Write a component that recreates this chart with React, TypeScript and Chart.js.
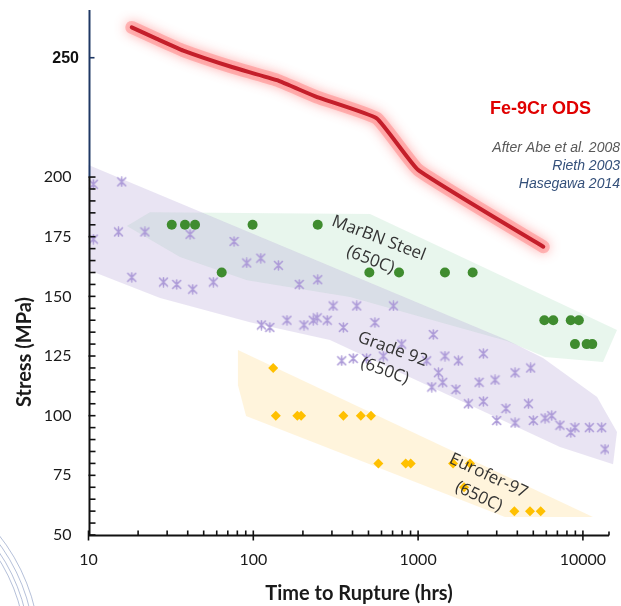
import React, { useEffect, useRef } from "react";
import { Chart, registerables } from "chart.js";

Chart.register(...registerables);

// ---------- axis ticks ----------
const xTickValues = [10, 100, 1000, 10000];
const yTickValues = [50, 75, 100, 125, 150, 175, 200];
const yTopTickValue = 250;

// ---------- Fe-9Cr ODS curve ----------
const odsTime = [18.3, 26, 37.6, 75, 139, 244, 561, 1000, 5750];
const odsStress = [262.7, 257.9, 253, 246, 240.6, 233.5, 224.6, 203, 170.8];

// ---------- MarBN Steel (650C) ----------
const marbnTime = [32, 38.5, 44.3, 99, 246, 64.3, 506, 766, 1455, 2143, 5835, 6610, 8440, 9450, 8950, 10540, 11400];
const marbnStress = [180, 180, 180, 180, 180, 160, 160, 160, 160, 160, 140, 140, 140, 140, 130, 130, 130];

// ---------- Eurofer-97 (650C) ----------
const euroferTime = [132, 137, 185, 195, 352, 449, 518, 574, 841, 902, 1630, 2065, 1900, 3840, 4775, 5545];
const euroferStress = [120, 100, 100, 100, 100, 100, 100, 80, 80, 80, 80, 80, 70, 60, 60, 60];

// ---------- Grade 92 (650C) ----------
const grade92Time = [
  10.7, 15.9, 10.7, 15.2, 22, 41.3, 76.4, 91.2, 111, 142,
  18.3, 28.5, 34.3, 42.9, 57.2, 190, 246, 305, 424, 708,
  112, 126, 160, 203, 231, 244, 281, 352, 547, 1236,
  344, 404, 487, 615, 795, 1127, 1328, 1455, 1754, 2489,
  1211, 1410, 1698, 2345, 2930, 3875, 4820, 2018, 2489, 3412,
  4670, 3000, 3875, 5000, 5890, 6470, 7260, 8440, 8950, 10940,
  13000, 13620,
];
const grade92Stress = [
  197, 198, 174, 177, 177, 176, 173, 164, 166, 163,
  158, 156, 155, 153, 156, 155, 157, 146, 146, 146,
  138, 137, 140, 138, 140, 141, 140, 137, 139, 134,
  123, 124, 124, 125, 130, 123, 118, 125, 123, 126,
  112, 114, 111, 114, 115, 118, 120, 105, 106, 103,
  105, 98, 97, 98, 99, 100, 96, 93, 95, 95,
  95, 86,
];

// ---------- shaded bands (outline vertices) ----------
const marbnBandTime = [17.1, 23.6, 511, 16100, 13240, 5890, 3460, 386, 91.6, 35.9];
const marbnBandStress = [179.5, 185.3, 184.5, 135.9, 122.5, 124.6, 131.3, 149.7, 156.8, 166.5];
const grade92BandTime = [10, 3460, 5730, 12190, 16100, 15240, 7260, 292, 95.5, 27.2, 10];
const grade92BandStress = [205, 131.7, 124.2, 107.8, 93.2, 79.7, 86.9, 131.7, 139.2, 149.3, 161];
const euroferBandTime = [80.7, 11510, 3365, 90.4, 80.7];
const euroferBandStress = [127.5, 57.5, 57.5, 99.9, 112.8];

// ---------- text ----------
const odsTitle = "Fe-9Cr ODS";
const sourceLines = ["After Abe et al. 2008", "Rieth 2003", "Hasegawa 2014"];
const bandLabelText = [
  ["MarBN Steel", "(650C)"],
  ["Grade 92", "(650C)"],
  ["Eurofer-97", "(650C)"],
];
const bandLabelTime = [544, 663, 2500];
const bandLabelStress = [169.8, 123.3, 70.4];
const bandLabelAngle = [21, 20, 25];
const xTitle = "Time to Rupture (hrs)";
const yTitle = "Stress (MPa)";

const zip = (xs: number[], ys: number[]) => xs.map((x, i) => ({ x, y: ys[i] }));

const bands = [
  { t: marbnBandTime, s: marbnBandStress, color: "rgba(165,218,185,0.25)" },
  { t: grade92BandTime, s: grade92BandStress, color: "rgba(182,165,215,0.30)" },
  { t: euroferBandTime, s: euroferBandStress, color: "rgba(255,214,120,0.26)" },
];

function makeStarMarker(color: string) {
  const c = document.createElement("canvas");
  c.width = 11;
  c.height = 11;
  const g = c.getContext("2d")!;
  g.strokeStyle = color;
  g.lineWidth = 1.6;
  g.lineCap = "round";
  g.beginPath();
  g.moveTo(1.5, 1.5);
  g.lineTo(9.5, 9.5);
  g.moveTo(9.5, 1.5);
  g.lineTo(1.5, 9.5);
  g.moveTo(5.5, 1);
  g.lineTo(5.5, 10);
  g.stroke();
  return c;
}

const decorPlugin = {
  id: "decor",
  beforeDatasetsDraw(chart: any) {
    const { ctx, scales } = chart;
    const xs = scales.x;
    const ys = scales.y;
    ctx.save();
    bands.forEach((b) => {
      ctx.beginPath();
      b.t.forEach((t, i) => {
        const px = xs.getPixelForValue(t);
        const py = ys.getPixelForValue(b.s[i]);
        if (i === 0) ctx.moveTo(px, py);
        else ctx.lineTo(px, py);
      });
      ctx.closePath();
      ctx.fillStyle = b.color;
      ctx.fill();
    });
    ctx.restore();
  },
  beforeDatasetDraw(chart: any, args: any) {
    const ds = chart.data.datasets[args.index];
    if (ds.label === "glow") {
      chart.ctx.save();
      chart.ctx.shadowColor = "rgba(255,70,70,0.9)";
      chart.ctx.shadowBlur = 12;
    }
  },
  afterDatasetDraw(chart: any, args: any) {
    const ds = chart.data.datasets[args.index];
    if (ds.label === "glow") chart.ctx.restore();
  },
  afterDatasetsDraw(chart: any) {
    const { ctx, scales } = chart;
    const xs = scales.x;
    const ys = scales.y;
    ctx.save();
    ctx.fillStyle = "#333";
    ctx.font = '17px "Open Sans"';
    ctx.textAlign = "center";
    ctx.textBaseline = "middle";
    bandLabelText.forEach((lines, k) => {
      const cx = xs.getPixelForValue(bandLabelTime[k]);
      const cy = ys.getPixelForValue(bandLabelStress[k]);
      ctx.save();
      ctx.translate(cx, cy);
      ctx.rotate((bandLabelAngle[k] * Math.PI) / 180);
      const lh = 23;
      lines.forEach((ln, i) => {
        ctx.fillText(ln, 0, (i - (lines.length - 1) / 2) * lh);
      });
      ctx.restore();
    });
    ctx.restore();
  },
  afterDraw(chart: any) {
    const { ctx, scales, chartArea } = chart;
    const xs = scales.x;
    const ys = scales.y;
    ctx.save();
    // y axis line
    const ax = Math.round(chartArea.left) + 0.5;
    const y200 = ys.getPixelForValue(200);
    ctx.lineWidth = 2;
    ctx.strokeStyle = "#1f3864";
    ctx.beginPath();
    ctx.moveTo(ax, chartArea.top);
    ctx.lineTo(ax, y200);
    ctx.stroke();
    ctx.strokeStyle = "#111";
    ctx.beginPath();
    ctx.moveTo(ax, y200);
    ctx.lineTo(ax, chartArea.bottom + 1);
    ctx.stroke();
    // y ticks
    ctx.lineWidth = 1.6;
    for (let v = 50; v <= 200; v += 5) {
      const py = ys.getPixelForValue(v);
      ctx.beginPath();
      ctx.moveTo(ax - (v % 25 === 0 ? 1 : 0), py);
      ctx.lineTo(ax + 6, py);
      ctx.stroke();
    }
    ctx.strokeStyle = "#1f3864";
    const p250 = ys.getPixelForValue(yTopTickValue);
    ctx.beginPath();
    ctx.moveTo(ax, p250);
    ctx.lineTo(ax + 5, p250);
    ctx.stroke();
    // x axis line
    const ay = Math.round(chartArea.bottom) + 0.5;
    ctx.strokeStyle = "#111";
    ctx.lineWidth = 2;
    ctx.beginPath();
    ctx.moveTo(chartArea.left, ay);
    ctx.lineTo(chartArea.right, ay);
    ctx.stroke();
    ctx.lineWidth = 1.6;
    for (let d = 10; d <= 10000; d *= 10) {
      for (let m = 1; m <= 9; m++) {
        const v = d * m;
        if (v > xs.max) break;
        const px = xs.getPixelForValue(v);
        ctx.beginPath();
        if (m === 1) {
          ctx.moveTo(px, ay - 5);
          ctx.lineTo(px, ay + 5);
        } else {
          ctx.moveTo(px, ay - 5);
          ctx.lineTo(px, ay);
        }
        ctx.stroke();
      }
    }
    ctx.beginPath();
    ctx.moveTo(chartArea.right, ay - 4);
    ctx.lineTo(chartArea.right, ay);
    ctx.stroke();

    // 250 label
    ctx.fillStyle = "#111";
    ctx.font = 'bold 16px "Liberation Sans", Arial';
    ctx.textAlign = "right";
    ctx.textBaseline = "middle";
    ctx.fillText(String(yTopTickValue), 79, p250 + 1);

    // axis titles
    ctx.font = 'bold 20px Lato';
    ctx.fillStyle = "#1a1a1a";
    ctx.textAlign = "center";
    ctx.textBaseline = "middle";
    ctx.fillText(xTitle, 359, 594);
    ctx.save();
    ctx.translate(25, 352);
    ctx.rotate(-Math.PI / 2);
    ctx.fillText(yTitle, 0, 0);
    ctx.restore();

    // ODS title and sources
    ctx.font = 'bold 18px "Liberation Sans", Arial';
    ctx.fillStyle = "#e00000";
    ctx.textAlign = "left";
    ctx.textBaseline = "alphabetic";
    ctx.fillText(odsTitle, 490, 114);
    ctx.font = 'italic 14px "Liberation Sans", Arial';
    ctx.textAlign = "right";
    ctx.fillStyle = "#595959";
    ctx.fillText(sourceLines[0], 620, 152);
    ctx.fillStyle = "#34507a";
    ctx.fillText(sourceLines[1], 620, 170);
    ctx.fillText(sourceLines[2], 620, 188);

    // decorative arcs (slide background)
    ctx.strokeStyle = "rgba(120,140,185,0.55)";
    ctx.lineWidth = 1;
    [176, 180, 185, 190].forEach((r) => {
      ctx.beginPath();
      ctx.arc(-150, 653, r, -Math.PI / 2.6, 0);
      ctx.stroke();
    });
    ctx.restore();
  },
};

export default function App() {
  const ref = useRef<HTMLCanvasElement>(null);
  useEffect(() => {
    if (!ref.current) return;
    const star = makeStarMarker("#ad9bd8");
    const chart = new Chart(ref.current, {
      type: "line",
      data: {
        datasets: [
          {
            label: "Fe-9Cr ODS",
            data: zip(odsTime, odsStress),
            borderColor: "#c41e2a",
            borderWidth: 4,
            borderCapStyle: "round",
            borderJoinStyle: "round",
            pointRadius: 0,
            tension: 0.12,
            fill: false,
          },
          {
            label: "glow",
            data: zip(odsTime, odsStress),
            borderColor: "rgba(255,120,120,0.45)",
            borderWidth: 13,
            borderCapStyle: "round",
            borderJoinStyle: "round",
            pointRadius: 0,
            tension: 0.12,
            fill: false,
          },
          {
            label: "MarBN Steel (650C)",
            data: zip(marbnTime, marbnStress),
            showLine: false,
            pointStyle: "circle",
            pointRadius: 5,
            pointBackgroundColor: "#3f8c2f",
            pointBorderWidth: 0,
          },
          {
            label: "Eurofer-97 (650C)",
            data: zip(euroferTime, euroferStress),
            showLine: false,
            pointStyle: "rectRot",
            pointRadius: 5,
            pointBackgroundColor: "#ffc000",
            pointBorderWidth: 0,
          },
          {
            label: "Grade 92 (650C)",
            data: zip(grade92Time, grade92Stress),
            showLine: false,
            pointStyle: star as any,
            pointRadius: 5,
          },
        ],
      },
      options: {
        responsive: false,
        animation: false,
        events: [],
        layout: { padding: { top: 10, right: 12, left: 0, bottom: 0 } },
        plugins: {
          legend: { display: false },
          tooltip: { enabled: false },
          title: { display: false },
        },
        scales: {
          x: {
            type: "logarithmic",
            min: 10,
            max: 14400,
            border: { display: false },
            grid: { display: false, drawTicks: false },
            afterBuildTicks: (s: any) => {
              s.ticks = xTickValues.map((v) => ({ value: v }));
            },
            afterFit: (s: any) => {
              s.height = 71;
              s.paddingLeft = 0;
              s.paddingRight = 0;
            },
            ticks: {
              autoSkip: false,
              maxRotation: 0,
              padding: 15,
              color: "#1a1a1a",
              font: { family: "Lato", size: 16 },
              callback: (v: any) => String(v),
            },
          },
          y: {
            type: "linear",
            min: 50,
            max: 270,
            border: { display: false },
            grid: { display: false, drawTicks: false },
            afterBuildTicks: (s: any) => {
              s.ticks = yTickValues.map((v) => ({ value: v }));
            },
            afterFit: (s: any) => {
              s.width = 88.5;
              s.paddingTop = 0;
              s.paddingBottom = 0;
            },
            ticks: {
              autoSkip: false,
              padding: 17,
              color: "#1a1a1a",
              font: { family: "Lato", size: 16 },
              callback: (v: any) => String(v),
            },
          },
        },
      },
      plugins: [decorPlugin],
    });
    return () => chart.destroy();
  }, []);
  return (
    <div style={{ position: "absolute", left: 0, top: 0, width: 621, height: 606, background: "#fff" }}>
      <canvas ref={ref} width={621} height={606} style={{ display: "block" }} />
    </div>
  );
}
